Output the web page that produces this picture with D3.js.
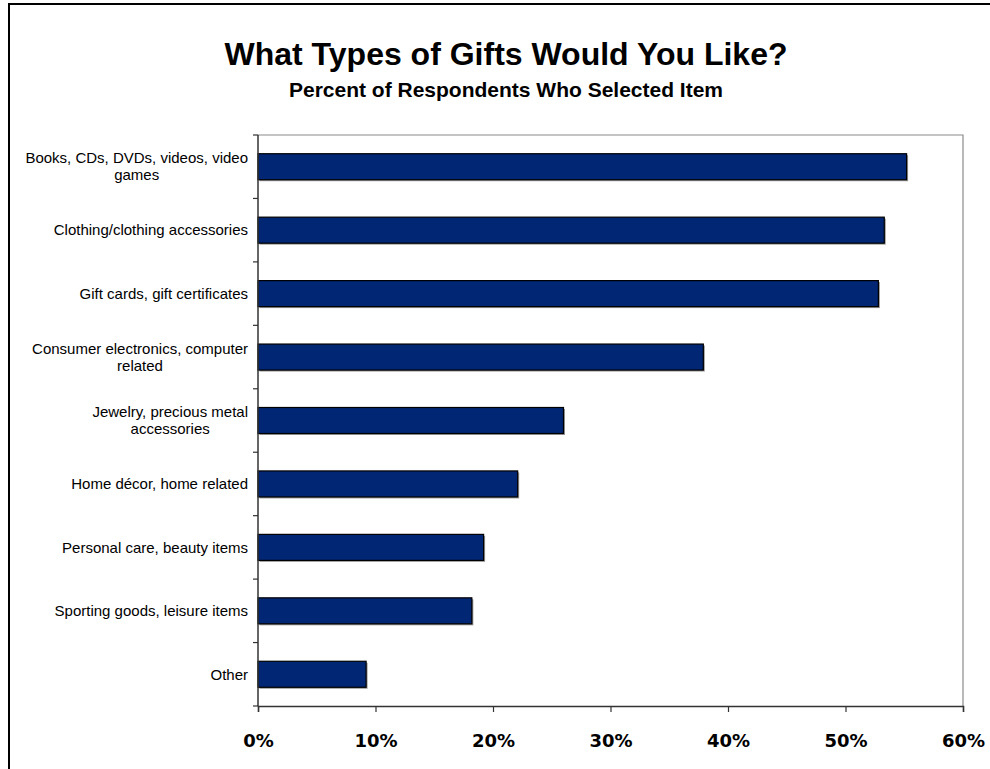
<!DOCTYPE html>
<html>
<head>
<meta charset="utf-8">
<script src="https://cdn.jsdelivr.net/npm/d3@7"></script>
<style>
  html, body { margin: 0; padding: 0; background: #fff; }
  svg { display: block; }
</style>
</head>
<body>
<svg id="chart" width="990" height="769"></svg>
<script>
const categories = [
  ["Books, CDs, DVDs, videos, video", "games"],
  ["Clothing/clothing accessories"],
  ["Gift cards, gift certificates"],
  ["Consumer electronics, computer", "related"],
  ["Jewelry, precious metal", "accessories"],
  ["Home décor, home related"],
  ["Personal care, beauty items"],
  ["Sporting goods, leisure items"],
  ["Other"]
];
const values = [55.2, 53.3, 52.8, 37.9, 26.0, 22.1, 19.2, 18.2, 9.2];
const xTicks = [0, 10, 20, 30, 40, 50, 60];
const title = "What Types of Gifts Would You Like?";
const subtitle = "Percent of Respondents Who Selected Item";

const svg = d3.select("#chart");
const plot = { left: 258, right: 963, top: 135, bottom: 706 };

// outer frame (clipped at right/bottom as in the reference)
svg.append("rect")
  .attr("x", 9).attr("y", 4)
  .attr("width", 1200).attr("height", 1200)
  .attr("fill", "none").attr("stroke", "#000").attr("stroke-width", 2);

svg.append("text")
  .attr("x", 506).attr("y", 65)
  .attr("text-anchor", "middle")
  .attr("font-family", "Liberation Sans, Arial, sans-serif")
  .attr("font-weight", "bold").attr("font-size", 32)
  .text(title);
svg.append("text")
  .attr("x", 506).attr("y", 97)
  .attr("text-anchor", "middle")
  .attr("font-family", "Liberation Sans, Arial, sans-serif")
  .attr("font-weight", "bold").attr("font-size", 21)
  .text(subtitle);

const x = d3.scaleLinear().domain([0, 60]).range([plot.left, plot.right]);
const idx = categories.map((d, i) => i);
const y = d3.scaleBand().domain(idx).range([plot.top, plot.bottom]).paddingInner(0.59).paddingOuter(0.295);

// plot area border (top & right gray)
svg.append("path")
  .attr("d", `M${plot.left},${plot.top}H${plot.right}V${plot.bottom}`)
  .attr("fill", "none").attr("stroke", "#8a8a8a").attr("stroke-width", 1.2);

// bars with slight shadow
const bars = svg.append("g");
bars.selectAll("rect.shadow").data(values).join("rect")
  .attr("class", "shadow")
  .attr("x", x(0) + 1.5)
  .attr("y", (d, i) => y(i) + 1.5)
  .attr("width", d => x(d) - x(0))
  .attr("height", y.bandwidth())
  .attr("fill", "#9a9a9a");
bars.selectAll("rect.bar").data(values).join("rect")
  .attr("class", "bar")
  .attr("x", x(0))
  .attr("y", (d, i) => y(i))
  .attr("width", d => x(d) - x(0))
  .attr("height", y.bandwidth())
  .attr("fill", "#012673")
  .attr("stroke", "#000").attr("stroke-width", 1.2);

// y axis line and band-boundary ticks
const step = (plot.bottom - plot.top) / categories.length;
const yBounds = d3.range(categories.length + 1).map(i => plot.top + i * step);
svg.append("line")
  .attr("x1", plot.left).attr("x2", plot.left)
  .attr("y1", plot.top).attr("y2", plot.bottom)
  .attr("stroke", "#333").attr("stroke-width", 1.5);
svg.append("g").selectAll("line").data(yBounds).join("line")
  .attr("x1", plot.left - 5).attr("x2", plot.left)
  .attr("y1", d => d).attr("y2", d => d)
  .attr("stroke", "#333").attr("stroke-width", 1.2);

// x axis
const xAxis = d3.axisBottom(x).tickValues(xTicks).tickSize(6).tickPadding(0)
  .tickFormat(d => d + "%");
const gx = svg.append("g").attr("transform", `translate(0,${plot.bottom})`).call(xAxis);
gx.select(".domain").attr("stroke", "#333").attr("stroke-width", 1.5);
gx.selectAll(".tick line").attr("stroke", "#333").attr("stroke-width", 1.2);
gx.selectAll(".tick text")
  .attr("y", 41).attr("dy", null)
  .attr("font-family", "DejaVu Sans, Verdana, sans-serif")
  .attr("font-weight", "bold").attr("font-size", 18)
  .attr("fill", "#000");

// category labels
const lineH = 17;
const labelG = svg.append("g")
  .attr("font-family", "Liberation Sans, Arial, sans-serif")
  .attr("font-size", 15).attr("fill", "#000");
categories.forEach((lines, i) => {
  const cy = y(i) + y.bandwidth() / 2;
  const widths = lines.map(l => {
    const tmp = labelG.append("text").text(l);
    const w = tmp.node().getComputedTextLength();
    tmp.remove();
    return w;
  });
  const maxW = d3.max(widths);
  const centerX = 248 - maxW / 2;
  const t = labelG.append("text").attr("text-anchor", "middle");
  lines.forEach((l, j) => {
    t.append("tspan")
      .attr("x", centerX)
      .attr("y", cy + (j - (lines.length - 1) / 2) * lineH)
      .attr("dy", "0.35em")
      .text(l);
  });
});
</script>
</body>
</html>
